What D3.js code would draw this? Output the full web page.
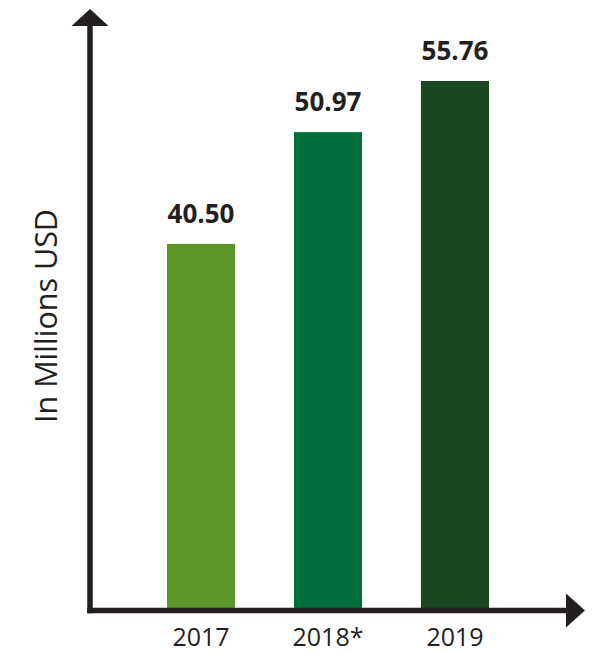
<!DOCTYPE html>
<html>
<head>
<meta charset="utf-8">
<script src="https://cdn.jsdelivr.net/npm/d3@7"></script>
<style>
  html, body { margin: 0; padding: 0; background: #ffffff; }
  svg { display: block; }
</style>
</head>
<body>
<svg id="chart" width="605" height="655"></svg>
<script>
// Revenue by year, in millions of USD
const years = ["2017", "2018*", "2019"];
const values = [40.50, 50.97, 55.76];
const valueLabels = ["40.50", "50.97", "55.76"];
const barColors = ["#5c9628", "#006f3c", "#19451f"];
const axisTitle = "In Millions USD";

const ink = "#231f20";
const svg = d3.select("#chart");

// Value axis: the bars do not start from zero
const y = d3.scaleLinear().domain([6.4, 55.76]).range([608, 81]);
const x = d3.scaleBand().domain(years).range([167, 489]).paddingInner(0.464).paddingOuter(0);

// Bars
svg.selectAll("rect.bar")
  .data(years)
  .join("rect")
  .attr("class", "bar")
  .attr("x", d => x(d))
  .attr("width", x.bandwidth())
  .attr("y", (d, i) => y(values[i]))
  .attr("height", (d, i) => y.range()[0] - y(values[i]))
  .attr("fill", (d, i) => barColors[i]);

// Value labels above bars
svg.selectAll("text.value")
  .data(years)
  .join("text")
  .attr("class", "value")
  .attr("x", d => x(d) + x.bandwidth() / 2)
  .attr("y", (d, i) => y(values[i]) - 21)
  .attr("text-anchor", "middle")
  .attr("font-family", "'Open Sans', sans-serif")
  .attr("font-weight", 700)
  .attr("font-size", 26)
  .attr("fill", ink)
  .text((d, i) => valueLabels[i]);

// Category labels
svg.selectAll("text.cat")
  .data(years)
  .join("text")
  .attr("class", "cat")
  .attr("x", d => x(d) + x.bandwidth() / 2)
  .attr("y", 646)
  .attr("text-anchor", "middle")
  .attr("font-family", "'Open Sans', sans-serif")
  .attr("font-size", 25)
  .attr("fill", ink)
  .text(d => d);

// Axes with arrowheads
const axisX = 90, axisY = 610.5, axisW = 5.5;
svg.append("line")
  .attr("x1", axisX).attr("x2", axisX)
  .attr("y1", 24).attr("y2", axisY + axisW / 2)
  .attr("stroke", ink).attr("stroke-width", axisW);
svg.append("line")
  .attr("x1", axisX - axisW / 2).attr("x2", 568)
  .attr("y1", axisY).attr("y2", axisY)
  .attr("stroke", ink).attr("stroke-width", axisW);
svg.append("path")
  .attr("d", `M${axisX},9 L${axisX + 18.5},26 L${axisX - 18.5},26 Z`)
  .attr("fill", ink);
svg.append("path")
  .attr("d", `M585,${axisY} L566,${axisY - 17} L566,${axisY + 17} Z`)
  .attr("fill", ink);

// Axis title
svg.append("text")
  .attr("transform", "translate(57,316) rotate(-90)")
  .attr("text-anchor", "middle")
  .attr("font-family", "'Open Sans', sans-serif")
  .attr("font-size", 30.5)
  .attr("fill", ink)
  .text(axisTitle);
</script>
</body>
</html>
